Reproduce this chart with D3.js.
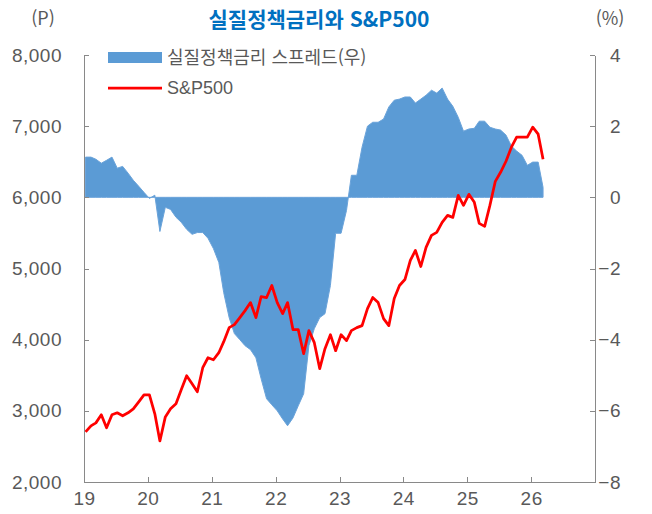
<!DOCTYPE html>
<html lang="ko">
<head>
    <meta charset="UTF-8">
    <title>실질정책금리와 S&P500</title>
    <script src="https://d3js.org/d3.v7.min.js"></script>
    <style>
        body {
            margin: 0;
            padding: 0;
            background-color: white;
        }

        svg {
            display: block;
            background-color: white;
        }

        .axis path,
        .axis line {
            stroke: #898989;
            stroke-width: 1px;
            shape-rendering: crispEdges;
        }

        .axis text {
            font-family: "Liberation Sans", Arial, sans-serif;
            font-size: 19px;
            letter-spacing: 0.5px;
            fill: #595959;
        }

        .title {
            font-family: "Noto Sans CJK KR", sans-serif;
            font-size: 21px;
            font-weight: bold;
            fill: #0070c0;
            text-anchor: middle;
        }

        .unit,
        .legend-text {
            font-family: "Noto Sans CJK KR", "Liberation Sans", sans-serif;
            font-size: 18px;
            fill: #595959;
        }

        .spread {
            fill: #5b9bd5;
            stroke: #6aa3da;
            stroke-width: 1px;
        }

        .sp-line {
            fill: none;
            stroke: #ff0000;
            stroke-width: 2.75px;
            stroke-linejoin: round;
        }
    </style>
</head>
<body>
    <script>
        const width = 652, height = 514;
        const margin = { top: 55, right: 57, bottom: 32, left: 84 };

        // monthly observations, Jan 2019 - Mar 2026
        const months = [
            "2019-01", "2019-02", "2019-03", "2019-04", "2019-05", "2019-06", "2019-07", "2019-08", "2019-09", "2019-10", "2019-11", "2019-12",
            "2020-01", "2020-02", "2020-03", "2020-04", "2020-05", "2020-06", "2020-07", "2020-08", "2020-09", "2020-10", "2020-11", "2020-12",
            "2021-01", "2021-02", "2021-03", "2021-04", "2021-05", "2021-06", "2021-07", "2021-08", "2021-09", "2021-10", "2021-11", "2021-12",
            "2022-01", "2022-02", "2022-03", "2022-04", "2022-05", "2022-06", "2022-07", "2022-08", "2022-09", "2022-10", "2022-11", "2022-12",
            "2023-01", "2023-02", "2023-03", "2023-04", "2023-05", "2023-06", "2023-07", "2023-08", "2023-09", "2023-10", "2023-11", "2023-12",
            "2024-01", "2024-02", "2024-03", "2024-04", "2024-05", "2024-06", "2024-07", "2024-08", "2024-09", "2024-10", "2024-11", "2024-12",
            "2025-01", "2025-02", "2025-03", "2025-04", "2025-05", "2025-06", "2025-07", "2025-08", "2025-09", "2025-10", "2025-11", "2025-12",
            "2026-01", "2026-02", "2026-03"
        ];

        // 실질정책금리 스프레드 (%, right axis)
        const spread = [
            1.13, 1.13, 1.07, 0.96, 1.04, 1.13, 0.82, 0.87, 0.68, 0.48, 0.31, 0.14,
            -0.03, 0.06, -0.96, -0.28, -0.34, -0.56, -0.70, -0.90, -1.04, -0.99, -0.99, -1.15,
            -1.44, -1.83, -2.68, -3.38, -3.83, -4.00, -4.17, -4.28, -4.51, -5.10, -5.66, -5.83,
            -6.00, -6.23, -6.42, -6.20, -5.86, -5.52, -4.17, -3.69, -3.38, -3.27, -2.48, -1.01,
            -1.01, -0.37, 0.62, 0.62, 1.41, 2.00, 2.11, 2.11, 2.20, 2.54, 2.73, 2.76,
            2.82, 2.82, 2.65, 2.76, 2.87, 3.01, 2.93, 3.07, 2.76, 2.56, 2.25, 1.86,
            1.92, 1.94, 2.14, 2.14, 1.97, 1.92, 1.89, 1.75, 1.44, 1.30, 1.18, 0.90,
            0.99, 0.99, 0.28
        ];

        // S&P500 (P, left axis)
        const sp500 = [
            2704, 2789, 2831, 2944, 2761, 2944, 2972, 2930, 2972, 3028, 3127, 3225,
            3225, 2958, 2577, 2915, 3028, 3099, 3296, 3493, 3380, 3268, 3606, 3746,
            3718, 3817, 3972, 4169, 4211, 4310, 4408, 4521, 4310, 4606, 4592, 4761,
            4521, 4366, 4521, 4141, 4141, 3803, 4127, 3958, 3592, 3873, 4070, 3845,
            4070, 3986, 4127, 4169, 4197, 4437, 4592, 4521, 4296, 4197, 4578, 4761,
            4845, 5113, 5254, 5028, 5296, 5465, 5507, 5648, 5746, 5718, 6028, 5887,
            6042, 5930, 5634, 5592, 5887, 6225, 6352, 6507, 6704, 6845, 6845, 6845,
            6986, 6887, 6535
        ];

        const leftTicks = [2000, 3000, 4000, 5000, 6000, 7000, 8000];
        const rightTicks = [-8, -6, -4, -2, 0, 2, 4];
        const yearTicks = [2019, 2020, 2021, 2022, 2023, 2024, 2025, 2026];

        const parseMonth = d3.timeParse("%Y-%m-%d");
        const data = months.map((m, i) => ({
            date: parseMonth(m + "-10"),
            spread: spread[i],
            sp: sp500[i]
        }));

        const svg = d3.select("body").append("svg")
            .attr("width", width)
            .attr("height", height);

        const x = d3.scaleTime()
            .domain([new Date(2019, 0, 1), new Date(2027, 0, 1)])
            .range([margin.left, width - margin.right]);

        const yLeft = d3.scaleLinear()
            .domain([2000, 8000])
            .range([height - margin.bottom, margin.top]);

        const yRight = d3.scaleLinear()
            .domain([-8, 4])
            .range([height - margin.bottom, margin.top]);

        // Spread area (filled against the zero line)
        const area = d3.area()
            .x(d => x(d.date))
            .y0(yRight(0))
            .y1(d => yRight(d.spread));

        svg.append("path")
            .datum(data)
            .attr("class", "spread")
            .attr("d", area);

        // S&P500 line
        const line = d3.line()
            .x(d => x(d.date))
            .y(d => yLeft(d.sp));

        svg.append("path")
            .datum(data)
            .attr("class", "sp-line")
            .attr("d", line);

        // Axes, ticks pointing inward
        svg.append("g")
            .attr("class", "axis")
            .attr("transform", `translate(${margin.left},0)`)
            .call(d3.axisLeft(yLeft)
                .tickValues(leftTicks)
                .tickFormat(d3.format(","))
                .tickSizeInner(-5)
                .tickSizeOuter(0)
                .tickPadding(22));

        svg.append("g")
            .attr("class", "axis axis-right")
            .attr("transform", `translate(${width - margin.right},0)`)
            .call(d3.axisRight(yRight)
                .tickValues(rightTicks)
                .tickFormat(d3.format("d"))
                .tickSizeInner(-5)
                .tickSizeOuter(0)
                .tickPadding(26))
            .selectAll("text")
            .attr("text-anchor", "end");

        svg.append("g")
            .attr("class", "axis")
            .attr("transform", `translate(0,${height - margin.bottom})`)
            .call(d3.axisBottom(x)
                .tickValues(yearTicks.map(yr => new Date(yr, 0, 1)))
                .tickFormat(d3.timeFormat("%y"))
                .tickSizeInner(-5)
                .tickSizeOuter(0)
                .tickPadding(10));

        // Title and units
        svg.append("text")
            .attr("class", "title")
            .attr("x", 319)
            .attr("y", 27)
            .text("실질정책금리와 S&P500");

        svg.append("text")
            .attr("class", "unit")
            .attr("x", 43)
            .attr("y", 25)
            .attr("text-anchor", "middle")
            .text("(P)");

        svg.append("text")
            .attr("class", "unit")
            .attr("x", 610)
            .attr("y", 25)
            .attr("text-anchor", "middle")
            .text("(%)");

        // Legend
        const legend = svg.append("g");

        legend.append("rect")
            .attr("x", 108)
            .attr("y", 52)
            .attr("width", 54)
            .attr("height", 11)
            .attr("fill", "#5b9bd5");

        legend.append("text")
            .attr("class", "legend-text")
            .attr("x", 167)
            .attr("y", 58)
            .attr("dy", "0.35em")
            .text("실질정책금리 스프레드(우)");

        legend.append("line")
            .attr("x1", 108)
            .attr("x2", 162)
            .attr("y1", 88)
            .attr("y2", 88)
            .attr("stroke", "#ff0000")
            .attr("stroke-width", 2.75);

        legend.append("text")
            .attr("class", "legend-text")
            .attr("x", 167)
            .attr("y", 88)
            .attr("dy", "0.35em")
            .style("font-family", "'Liberation Sans', Arial, sans-serif")
            .text("S&P500");
    </script>
</body>
</html>
